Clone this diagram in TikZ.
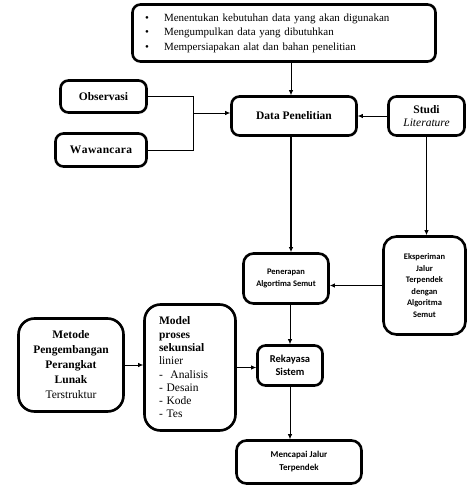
\documentclass[tikz,border=0pt]{standalone}
\usepackage{fontspec}
\setmainfont{Liberation Serif}
\newfontfamily\calib{Carlito}
\usetikzlibrary{arrows.meta}
\begin{document}
\begin{tikzpicture}[x=1pt,y=-1pt,
  box/.style={draw, line width=2.6pt, rounded corners=8pt, align=center, inner sep=2pt},
  conn/.style={line width=0.8pt},
  arr/.style={line width=0.8pt, -{Latex[length=5pt,width=4.5pt]}},
  sfb/.style={font=\calib\bfseries\fontsize{8.5}{11.5}\selectfont},
  srb/.style={font=\bfseries\fontsize{11.5}{14}\selectfont}]
\useasboundingbox (0,0) rectangle (468,486);

\node[box, minimum width=303pt, minimum height=57pt, text width=278pt, inner xsep=12.5pt, align=left,
  font=\fontsize{11}{14.5}\selectfont] (top) at (284,33)
  {\makebox[19pt][l]{\textbullet}Menentukan kebutuhan data yang akan digunakan\\
   \makebox[19pt][l]{\textbullet}Mengumpulkan data yang dibutuhkan\\
   \makebox[19pt][l]{\textbullet}Mempersiapakan alat dan bahan penelitian};

\node[box, srb, minimum width=86pt, minimum height=32pt] (obs) at (103.5,96.5) {Observasi};
\node[box, srb, minimum width=91pt, minimum height=33pt] (waw) at (101,150) {W\kern0.5pt a\kern0.5pt w\kern0.3pt a\kern0.3pt n\kern0.3pt c\kern0.3pt a\kern0.3pt r\kern0.3pt a};
\node[box, srb, minimum width=125pt, minimum height=39pt] (data) at (294,116) {Data Penelitian};
\node[box, srb, minimum width=76pt, minimum height=39pt, font=\fontsize{11.5}{13}\selectfont] (studi) at (426.5,116) {\textbf{Studi}\\\textit{Literature}};

\node[box, sfb, minimum width=85pt, minimum height=50pt, rounded corners=10pt] (pen) at (286,278.5) {Penerapan\\Algortima Semut};
\node[box, sfb, minimum width=82pt, minimum height=98pt, rounded corners=13pt] (eks) at (424.5,285.5) {Eksperiman\\Jalur\\Terpendek\\dengan\\Algoritma\\Semut};

\node[box, minimum width=65pt, minimum height=40pt, font=\calib\bfseries\fontsize{10.5}{13.5}\selectfont] (rek) at (290,365.5) {Rekayasa\\Sistem};

\node[box, minimum width=105pt, minimum height=93pt, rounded corners=16pt, font=\fontsize{11.5}{15}\selectfont] (met) at (71,365)
  {\textbf{Metode}\\\textbf{Pengembangan}\\\textbf{Perangkat}\\\textbf{Lunak}\\Terstruktur};

\node[box, minimum width=91pt, minimum height=126pt, rounded corners=16pt, align=left, text width=62pt, inner xsep=14.5pt,
  font=\fontsize{11.5}{13.3}\selectfont] (model) at (190,367.5)
  {\textbf{Model}\\\textbf{proses}\\\textbf{sekunsial}\\linier\\-\ \ Analisis\\- Desain\\- Kode\\- Tes};

\node[box, minimum width=125pt, minimum height=43pt, rounded corners=10pt, font=\calib\bfseries\fontsize{9}{13}\selectfont] (menc) at (299,462) {Mencapai Jalur\\Terpendek};

% connectors
\draw[arr] ([xshift=-3pt]data.north |- top.south) -- ([xshift=-3pt]data.north);
\coordinate (j) at (193,113);
\draw[conn] (obs.east) -- (obs.east -| j) -- (waw.east -| j) -- (waw.east);
\draw[arr] (j) -- (data.west |- j);
\draw[arr] (studi.west) -- (data.east);
\draw[arr, line width=1.6pt] ([xshift=-3pt]data.south) -- ([xshift=-3pt]data.south |- pen.north);
\draw[arr, line width=1.2pt] (studi.south) -- (studi.south |- eks.north);
\draw[arr, line width=1.2pt] (eks.west) -- (eks.west -| pen.east);
\draw[arr] (rek.north |- pen.south) -- (rek.north);
\draw[arr] (met.east) -- (met.east -| model.west);
\draw[arr] (model.east) -- (model.east -| rek.west);
\draw[arr] (rek.south) -- (rek.south |- menc.north);
\end{tikzpicture}
\end{document}
